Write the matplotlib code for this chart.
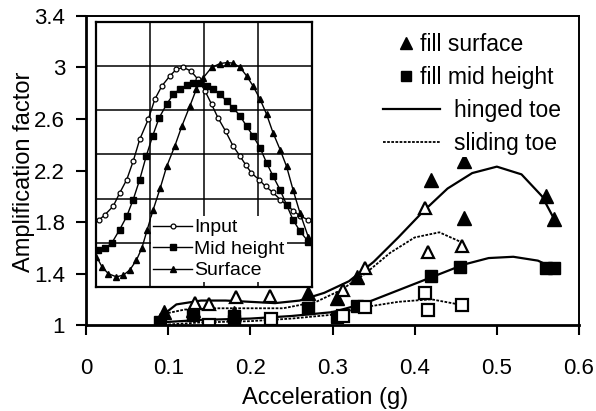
import matplotlib
matplotlib.use("Agg")
import matplotlib.pyplot as plt
from matplotlib.lines import Line2D

plt.rcParams['font.family'] = ['Liberation Sans', 'DejaVu Sans']

# main chart: measured points
fill_surf_hinged_x = [0.09, 0.095, 0.13, 0.18, 0.18, 0.27, 0.305, 0.33, 0.42, 0.46, 0.46, 0.56, 0.57]
fill_surf_hinged_y = [1.04, 1.10, 1.12, 1.04, 1.09, 1.25, 1.21, 1.37, 2.13, 2.27, 1.83, 2.00, 1.82]
fill_mid_hinged_x = [0.09, 0.13, 0.18, 0.18, 0.27, 0.305, 0.33, 0.42, 0.455, 0.56, 0.57]
fill_mid_hinged_y = [1.02, 1.08, 1.03, 1.07, 1.13, 1.06, 1.15, 1.38, 1.45, 1.44, 1.44]
fill_surf_sliding_x = [0.133, 0.15, 0.183, 0.224, 0.313, 0.34, 0.413, 0.416, 0.458]
fill_surf_sliding_y = [1.17, 1.16, 1.22, 1.225, 1.27, 1.44, 1.91, 1.57, 1.61]
fill_mid_sliding_x = [0.15, 0.225, 0.313, 0.34, 0.413, 0.416, 0.458]
fill_mid_sliding_y = [1.00, 1.05, 1.07, 1.14, 1.25, 1.12, 1.155]

# main chart: trend curves
surf_hinged_curve_x = [0.088, 0.11, 0.14, 0.17, 0.2, 0.23, 0.26, 0.29, 0.32, 0.35, 0.38, 0.41, 0.44, 0.47, 0.5, 0.53, 0.555, 0.57]
surf_hinged_curve_y = [1.05, 1.16, 1.19, 1.19, 1.18, 1.17, 1.19, 1.25, 1.34, 1.49, 1.68, 1.88, 2.06, 2.18, 2.23, 2.17, 2.00, 1.82]
surf_sliding_curve_x = [0.09, 0.12, 0.16, 0.2, 0.24, 0.28, 0.31, 0.34, 0.37, 0.4, 0.43, 0.458]
surf_sliding_curve_y = [1.08, 1.12, 1.13, 1.13, 1.13, 1.18, 1.27, 1.40, 1.56, 1.68, 1.72, 1.64]
mid_hinged_curve_x = [0.09, 0.14, 0.2, 0.25, 0.3, 0.34, 0.38, 0.42, 0.46, 0.49, 0.52, 0.55, 0.57]
mid_hinged_curve_y = [1.02, 1.04, 1.05, 1.07, 1.10, 1.17, 1.27, 1.37, 1.47, 1.52, 1.53, 1.50, 1.44]
mid_sliding_curve_x = [0.09, 0.14, 0.2, 0.25, 0.3, 0.34, 0.38, 0.42, 0.458]
mid_sliding_curve_y = [1.00, 1.02, 1.03, 1.05, 1.08, 1.14, 1.18, 1.20, 1.155]

x_ticks = [0, 0.1, 0.2, 0.3, 0.4, 0.5, 0.6]
x_tick_labels = ['0', '0.1', '0.2', '0.3', '0.4', '0.5', '0.6']
y_ticks = [1, 1.4, 1.8, 2.2, 2.6, 3, 3.4]
y_tick_labels = ['1', '1.4', '1.8', '2.2', '2.6', '3', '3.4']

# inset: schematic profiles (grid units)
input_x = [0.06, 0.17, 0.32, 0.44, 0.57, 0.69, 0.81, 0.97, 1.09, 1.22, 1.37, 1.49, 1.62, 1.76, 1.89, 2.02,
           2.14, 2.26, 2.40, 2.54, 2.67, 2.77, 2.88, 3.02, 3.14, 3.28, 3.41, 3.53, 3.65, 3.78, 3.93]
input_y = [1.52, 1.64, 1.83, 2.13, 2.43, 2.85, 3.34, 3.80, 4.25, 4.55, 4.78, 4.93, 4.97, 4.89, 4.70, 4.44,
           4.14, 3.83, 3.53, 3.19, 2.96, 2.77, 2.58, 2.43, 2.28, 2.14, 1.98, 1.86, 1.73, 1.61, 1.52]
mid_x = [0.04, 0.17, 0.29, 0.44, 0.57, 0.69, 0.81, 0.93, 1.05, 1.17, 1.31, 1.43, 1.56, 1.68, 1.80, 1.93,
         2.05, 2.17, 2.30, 2.42, 2.54, 2.67, 2.79, 2.91, 3.04, 3.16, 3.28, 3.41, 3.53, 3.65, 3.78, 3.93]
mid_y = [0.84, 0.88, 0.99, 1.30, 1.60, 1.98, 2.43, 2.96, 3.42, 3.83, 4.14, 4.36, 4.49, 4.57, 4.61, 4.61,
         4.54, 4.48, 4.36, 4.21, 4.06, 3.87, 3.64, 3.42, 3.15, 2.81, 2.51, 2.20, 1.86, 1.52, 1.26, 1.03]
surface_x = [0.01, 0.11, 0.23, 0.38, 0.51, 0.63, 0.75, 0.85, 0.95, 1.06, 1.19, 1.31, 1.46, 1.59, 1.74, 1.86,
             1.99, 2.14, 2.30, 2.42, 2.54, 2.67, 2.79, 2.91, 3.04, 3.16, 3.28, 3.41, 3.53, 3.65, 3.78, 3.93]
surface_y = [0.69, 0.46, 0.30, 0.23, 0.27, 0.39, 0.61, 0.88, 1.30, 1.75, 2.24, 2.73, 3.19, 3.64, 4.10, 4.48,
             4.74, 4.97, 5.06, 5.08, 5.07, 4.97, 4.78, 4.55, 4.25, 3.91, 3.49, 3.11, 2.73, 2.20, 1.67, 1.14]

fig = plt.figure(figsize=(5.96, 4.11), dpi=100)
ax = fig.add_axes([0.1443, 0.2092, 0.8272, 0.7519])

# curves
ax.plot(surf_hinged_curve_x, surf_hinged_curve_y, color='black', lw=1.6)
ax.plot(mid_hinged_curve_x, mid_hinged_curve_y, color='black', lw=1.6)
ax.plot(surf_sliding_curve_x, surf_sliding_curve_y, color='black', lw=1.3, ls=(0, (1.5, 0.8)))
ax.plot(mid_sliding_curve_x, mid_sliding_curve_y, color='black', lw=1.3, ls=(0, (1.5, 0.8)))

# points
ax.plot(fill_surf_hinged_x, fill_surf_hinged_y, ls='none', marker='^', ms=9.5, color='black')
ax.plot(fill_mid_hinged_x, fill_mid_hinged_y, ls='none', marker='s', ms=8, color='black')
ax.plot(fill_surf_sliding_x, fill_surf_sliding_y, ls='none', marker='^', ms=9,
        mfc='white', mec='black', mew=1.6)
ax.plot(fill_mid_sliding_x, fill_mid_sliding_y, ls='none', marker='s', ms=8,
        mfc='white', mec='black', mew=1.6)

ax.set_xlim(0, 0.6)
ax.set_ylim(1, 3.4)
ax.set_xticks(x_ticks)
ax.set_xticklabels(x_tick_labels)
ax.set_yticks(y_ticks)
ax.set_yticklabels(y_tick_labels)
ax.tick_params(direction='out', length=7, width=1.5, labelsize=16, colors='black')
ax.tick_params(axis='x', pad=17)
ax.tick_params(axis='y', pad=8)
for side in ['left', 'bottom']:
    ax.spines[side].set_linewidth(2)
for side in ['top', 'right']:
    ax.spines[side].set_linewidth(1.4)

ax.set_xlabel('Acceleration (g)', fontsize=17)
ax.set_ylabel('Amplification factor', fontsize=17)
ax.xaxis.set_label_coords(0.485, -0.236)
ax.xaxis.label.set_va('center')
ax.yaxis.set_label_coords(-0.126, 0.495)
ax.yaxis.label.set_va('center')

# legends
marker_handles = [
    Line2D([], [], ls='none', marker='^', ms=8, color='black'),
    Line2D([], [], ls='none', marker='s', ms=7, color='black'),
]
leg1 = ax.legend(marker_handles, ['fill surface', 'fill mid height'], loc='upper left',
                 bbox_to_anchor=(0.635, 0.945), frameon=False, fontsize=16.5, handlelength=0.6,
                 handletextpad=0.3, labelspacing=0.42, borderpad=0, borderaxespad=0)
ax.add_artist(leg1)
line_handles = [
    Line2D([], [], color='black', lw=1.6),
    Line2D([], [], color='black', lw=1.3, ls=(0, (1.5, 0.8))),
]
leg2 = ax.legend(line_handles, ['hinged toe', 'sliding toe'], loc='upper left',
                 bbox_to_anchor=(0.597, 0.74), frameon=True, fontsize=16.5, handlelength=2.5,
                 handletextpad=0.6, labelspacing=0.45, borderpad=0.1, borderaxespad=0)
leg2.get_frame().set_facecolor('white')
leg2.get_frame().set_edgecolor('none')
leg2.get_frame().set_alpha(1)

# inset
ins = fig.add_axes([0.161, 0.3017, 0.3624, 0.6448])
ins.plot(input_x, input_y, color='black', lw=1.0, marker='o', ms=3.5, mfc='white', mec='black', mew=0.9,
         label='Input')
ins.plot(mid_x, mid_y, color='black', lw=1.0, marker='s', ms=3.8, label='Mid height')
ins.plot(surface_x, surface_y, color='black', lw=1.0, marker='^', ms=4, label='Surface')
ins.set_xlim(0, 4)
ins.set_ylim(0, 6)
ins.set_xticks([0, 1, 2, 3, 4])
ins.set_yticks([0, 1, 2, 3, 4, 5, 6])
ins.tick_params(length=0, labelbottom=False, labelleft=False)
ins.grid(True, color='black', lw=1.1)
for s in ins.spines.values():
    s.set_linewidth(1.6)
ileg = ins.legend(loc='lower left', bbox_to_anchor=(0.255, 0.02), fontsize=14, handlelength=2.0,
                  handletextpad=0.1, labelspacing=0.2, borderpad=0.12, borderaxespad=0, frameon=True)
ileg.get_frame().set_facecolor('white')
ileg.get_frame().set_edgecolor('none')
ileg.get_frame().set_alpha(1)

fig.savefig('out.png', dpi=100)
